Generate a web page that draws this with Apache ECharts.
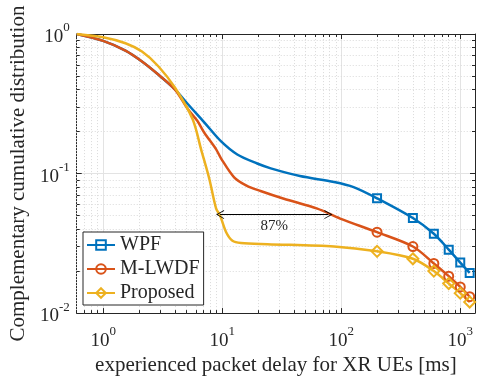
<!DOCTYPE html>
<html>
<head>
<meta charset="utf-8">
<script src="https://cdn.jsdelivr.net/npm/echarts@6/dist/echarts.min.js"></script>
<style>
html, body { margin: 0; padding: 0; background: #fff; }
#chart { width: 482px; height: 381px; }
</style>
</head>
<body>
<div id="chart"></div>
<script>
// values (delay in ms, CCDF)
const wpfX = [0.6, 1, 1.54, 2.12, 2.92, 4.03, 5.14, 7.1, 9.8, 13.4, 19.7, 25.6, 45, 87, 127, 200, 400, 600, 800, 1000, 1200];
const wpfY = [1.0, 0.892, 0.76, 0.635, 0.51, 0.40, 0.315, 0.232, 0.17, 0.137, 0.118, 0.109, 0.096, 0.087, 0.08, 0.0665, 0.048, 0.037, 0.0285, 0.023, 0.0194];

const mlwdfX = [0.6, 1, 1.54, 2.12, 2.92, 4.03, 5.14, 6.2, 7.08, 8.9, 9.8, 12.6, 16, 21, 33, 63, 98, 200, 400, 600, 800, 1000, 1200];
const mlwdfY = [1.0, 0.892, 0.76, 0.635, 0.51, 0.398, 0.29, 0.238, 0.196, 0.149, 0.128, 0.094, 0.082, 0.075, 0.066, 0.056, 0.0476, 0.038, 0.030, 0.0227, 0.0184, 0.0154, 0.0131];

const propX = [0.6, 1, 1.54, 2.12, 2.92, 4.03, 5.66, 6.65, 7.8, 8.9, 9.6, 10.8, 12.2, 14.4, 24, 87, 200, 400, 600, 800, 1000, 1200];
const propY = [1.0, 0.947, 0.858, 0.748, 0.585, 0.41, 0.244, 0.149, 0.0915, 0.056, 0.050, 0.038, 0.033, 0.0318, 0.0312, 0.030, 0.0277, 0.0245, 0.020, 0.0163, 0.0139, 0.012];

const markerFrom = 200; // markers drawn from 200 ms on
const arrowX = [9.6, 78];
const arrowY = 0.0508;
const gainText = "87%";

const FONT = "Liberation Serif";
const INK = "#262626";
const xMin = 0.6, xMax = 1330, yMin = 0.01, yMax = 1;

function toData(xs, ys) {
    return xs.map((x, i) => x >= markerFrom ? [x, ys[i]] : { value: [x, ys[i]], symbol: "none" });
}

function powLabel(v) {
    const e = Math.round(Math.log10(v));
    return "{b|10}{s|" + e + "}";
}

const rich = {
    b: { fontFamily: FONT, fontSize: 19, color: INK, padding: [6, 0, 0, 0], verticalAlign: "bottom" },
    s: { fontFamily: FONT, fontSize: 13, color: INK, verticalAlign: "top" },
};

// minor (2..9 x 10^n) grid positions
let minorX = [];
for (let d = -1; d <= 3; d++) {
    for (let k = 2; k <= 9; k++) {
        let v = k * Math.pow(10, d);
        if (v > xMin && v < xMax) minorX.push(+v.toPrecision(3));
    }
}
let minorY = [];
for (let d = -2; d <= -1; d++) {
    for (let k = 2; k <= 9; k++) minorY.push(+(k * Math.pow(10, d)).toPrecision(3));
}

const tx = Math.pow(10, 3 / 119.5), ty = Math.pow(10, 3 / 140.5);
let gridLines = [];
minorX.forEach((v) => gridLines.push({ xAxis: v }));
minorY.forEach((v) => gridLines.push({ yAxis: v }));
let minorTicks = [];
minorX.forEach((v) => {
    minorTicks.push([{ coord: [v, yMin] }, { coord: [v, yMin * ty] }]);
    minorTicks.push([{ coord: [v, yMax] }, { coord: [v, yMax / ty] }]);
});
minorY.forEach((v) => {
    minorTicks.push([{ coord: [xMin, v] }, { coord: [xMin * tx, v] }]);
    minorTicks.push([{ coord: [xMax, v] }, { coord: [xMax / tx, v] }]);
});

function curve(name, color, symbol, size, xs, ys) {
    return {
        name: name,
        type: "line",
        z: 3,
        data: toData(xs, ys),
        smooth: 0.3,
        symbol: symbol,
        symbolSize: size,
        showSymbol: true,
        lineStyle: { color: color, width: 2.5 },
        itemStyle: { color: "transparent", borderColor: color, borderWidth: 2 },
        emphasis: { disabled: true },
        animation: false,
    };
}

let chart = echarts.init(document.getElementById("chart"));
chart.setOption({
    animation: false,
    grid: { left: 75, right: 7, top: 34, bottom: 66 },
    legend: {
        data: ["WPF", "M-LWDF", "Proposed"],
        orient: "vertical",
        left: 83,
        top: 232,
        padding: [3, 4, 2, 3],
        itemWidth: 28,
        itemHeight: 12,
        itemGap: 4,
        borderColor: INK,
        borderWidth: 1,
        backgroundColor: "#fff",
        textStyle: { fontFamily: FONT, fontSize: 20, color: INK, lineHeight: 20 },
        z: 10,
    },
    xAxis: [
        {
            type: "log",
            logBase: 10,
            min: xMin,
            max: xMax,
            name: "experienced packet delay for XR UEs [ms]",
            nameLocation: "middle",
            nameGap: 37,
            nameTextStyle: { fontFamily: FONT, fontSize: 21, color: INK },
            axisLine: { onZero: false, lineStyle: { color: INK, width: 1 } },
            axisTick: { inside: true, length: 5, lineStyle: { color: INK } },
            axisLabel: { showMinLabel: false, showMaxLabel: false, margin: 12, formatter: powLabel, rich: rich },
            splitLine: { show: true, lineStyle: { color: "#e3e3e3", width: 1 } },
        },
        {
            type: "log",
            logBase: 10,
            min: xMin,
            max: xMax,
            position: "top",
            axisLine: { onZero: false, lineStyle: { color: INK, width: 1 } },
            axisTick: { inside: true, length: 5, lineStyle: { color: INK } },
            axisLabel: { show: false },
            splitLine: { show: false },
        },
    ],
    yAxis: [
        {
            type: "log",
            logBase: 10,
            min: yMin,
            max: yMax,
            name: "Complementary cumulative distribution",
            nameLocation: "middle",
            nameGap: 42,
            nameTextStyle: { fontFamily: FONT, fontSize: 21, color: INK },
            axisLine: { show: true, onZero: false, lineStyle: { color: INK, width: 1 } },
            axisTick: { show: true, inside: true, length: 5, lineStyle: { color: INK } },
            axisLabel: { margin: 7, formatter: powLabel, rich: rich },
            splitLine: { show: true, lineStyle: { color: "#e3e3e3", width: 1 } },
        },
        {
            type: "log",
            logBase: 10,
            min: yMin,
            max: yMax,
            position: "right",
            axisLine: { show: true, onZero: false, lineStyle: { color: INK, width: 1 } },
            axisTick: { show: true, inside: true, length: 5, lineStyle: { color: INK } },
            axisLabel: { show: false },
            splitLine: { show: false },
        },
    ],
    series: [
        {
            name: "grid",
            type: "line",
            z: 1,
            data: [],
            silent: true,
            markLine: {
                z: 1,
                silent: true,
                animation: false,
                symbol: ["none", "none"],
                label: { show: false },
                lineStyle: { color: "#dadada", type: [1, 2], width: 1 },
                emphasis: { disabled: true },
                data: gridLines,
            },
        },
        {
            name: "ticks",
            type: "line",
            z: 2,
            data: [],
            silent: true,
            markLine: {
                z: 2,
                silent: true,
                animation: false,
                symbol: ["none", "none"],
                label: { show: false },
                lineStyle: { color: INK, type: "solid", width: 1 },
                emphasis: { disabled: true },
                data: minorTicks,
            },
        },
        curve("WPF", "#0072BD", "rect", 8, wpfX, wpfY),
        curve("M-LWDF", "#D95319", "circle", 9, mlwdfX, mlwdfY),
        curve("Proposed", "#EDB120", "diamond", 11, propX, propY),
        {
            name: "annot",
            type: "line",
            z: 4,
            data: [],
            silent: true,
            markLine: {
                z: 6,
                silent: true,
                animation: false,
                symbol: ["path://M0,10 L5,0 L10,10 L9,10 L5,2 L1,10 Z", "path://M0,10 L5,0 L10,10 L9,10 L5,2 L1,10 Z"],
                symbolSize: [9, 8],
                lineStyle: { color: "#000", type: "solid", width: 1.2 },
                label: {
                    show: true,
                    position: "insideMiddleBottom",
                    formatter: gainText,
                    fontFamily: FONT,
                    fontSize: 15,
                    color: INK,
                    distance: 4,
                },
                emphasis: { disabled: true },
                data: [[{ coord: [arrowX[0], arrowY] }, { coord: [arrowX[1], arrowY] }]],
            },
        },
    ],
});
</script>
</body>
</html>
